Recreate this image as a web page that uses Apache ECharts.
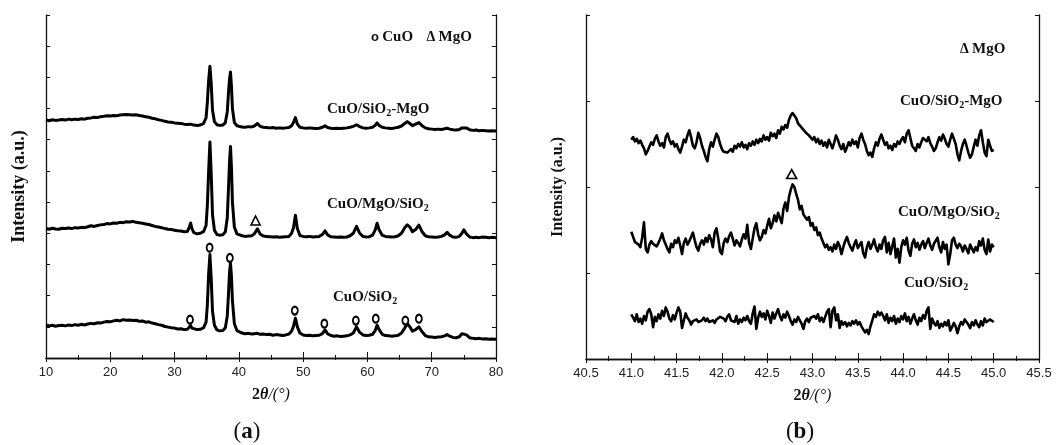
<!DOCTYPE html>
<html><head><meta charset="utf-8">
<script src="https://cdn.jsdelivr.net/npm/echarts@6/dist/echarts.min.js"></script>
<style>html,body{margin:0;padding:0;background:#fff}#c{width:1056px;height:445px}</style>
</head><body><div id="c"></div>
<script>
// ---------- Panel (a): 2θ grid (deg) ----------
const xA = [
10,10.5,11,11.5,12,12.5,13,13.5,14,14.5,
15,15.5,16,16.5,17,17.5,18,18.5,19,19.5,
20,20.5,21,21.5,22,22.5,23,23.5,24,24.5,
25,25.5,26,26.5,27,27.5,28,28.5,29,29.5,
30,30.5,31,31.5,32,32.3,32.5,32.7,33,33.5,
34,34.5,34.9,35.1,35.3,35.5,35.7,35.9,36.2,36.6,
37,37.5,37.9,38.2,38.4,38.55,38.7,38.85,39,39.3,
39.7,40,40.5,41,41.5,42,42.4,42.9,43.3,43.8,
44.3,44.8,45.3,45.8,46.3,46.8,47.3,47.8,48.2,48.5,
48.8,49.1,49.5,50,50.5,51,51.5,52,52.5,53,
53.4,53.8,54.3,54.8,55.3,55.8,56.3,56.8,57.3,57.8,
58.3,58.8,59.3,59.8,60.3,60.8,61.2,61.5,61.8,62.3,
62.8,63.3,63.8,64.3,64.8,65.3,65.8,66.2,66.6,67,
67.5,68,68.5,69,69.5,70,70.5,71,71.5,72,
72.4,72.8,73.3,73.8,74.3,74.7,75,75.4,75.9,76.4,
76.9,77.4,77.9,78.4,78.9,79.4,80];
// intensity (a.u., stacked offsets as read)
const aCuOSiO2 = [
1.06,1.03,1.05,1.02,1.04,1.05,1.03,1.06,1.04,1.07,
1.05,1.08,1.06,1.09,1.11,1.10,1.13,1.12,1.15,1.17,
1.16,1.19,1.21,1.19,1.23,1.21,1.22,1.20,1.21,1.18,
1.19,1.15,1.16,1.12,1.10,1.07,1.05,1.01,0.99,0.97,
0.96,0.93,0.94,0.91,0.92,0.98,1.04,0.96,0.90,0.91,
0.92,0.97,1.15,1.70,2.70,3.32,2.55,1.50,1.05,0.90,
0.87,0.88,0.97,1.35,2.10,2.75,3.04,2.60,1.85,1.10,
0.88,0.82,0.80,0.78,0.79,0.77,0.78,0.79,0.76,0.77,
0.75,0.76,0.73,0.75,0.74,0.72,0.74,0.77,0.86,1.02,
1.28,1.00,0.80,0.74,0.72,0.73,0.71,0.72,0.73,0.78,
0.90,0.78,0.72,0.70,0.71,0.69,0.70,0.71,0.74,0.80,
1.00,0.82,0.74,0.72,0.73,0.76,0.88,1.05,0.92,0.76,
0.72,0.71,0.70,0.71,0.73,0.80,0.96,1.10,1.00,0.86,
0.91,1.00,0.84,0.72,0.68,0.67,0.66,0.67,0.68,0.71,
0.75,0.70,0.66,0.65,0.68,0.78,0.84,0.74,0.65,0.63,
0.62,0.63,0.61,0.62,0.60,0.61,0.60];
const aCuOMgOSiO2 = [
4.15,4.13,4.16,4.14,4.13,4.16,4.15,4.17,4.15,4.18,
4.17,4.19,4.18,4.21,4.24,4.22,4.25,4.27,4.28,4.31,
4.30,4.33,4.32,4.35,4.34,4.37,4.36,4.38,4.35,4.34,
4.32,4.30,4.28,4.25,4.22,4.20,4.18,4.15,4.13,4.12,
4.10,4.08,4.07,4.05,4.06,4.20,4.33,4.15,4.02,3.98,
4.00,4.05,4.25,4.90,6.00,6.93,5.90,4.60,4.10,3.96,
3.94,3.95,4.05,4.50,5.50,6.30,6.78,6.10,5.00,4.20,
3.98,3.93,3.92,3.90,3.91,3.92,3.98,4.14,3.98,3.91,
3.90,3.89,3.88,3.89,3.87,3.88,3.89,3.90,4.00,4.18,
4.58,4.15,3.93,3.90,3.89,3.90,3.88,3.89,3.90,3.96,
4.08,3.95,3.89,3.88,3.87,3.88,3.87,3.88,3.92,4.00,
4.22,4.00,3.90,3.88,3.89,3.94,4.10,4.32,4.12,3.94,
3.90,3.89,3.88,3.89,3.92,4.00,4.18,4.27,4.20,4.05,
4.12,4.26,4.05,3.92,3.89,3.88,3.87,3.88,3.90,3.95,
4.03,3.94,3.88,3.87,3.90,4.00,4.11,3.98,3.88,3.86,
3.87,3.86,3.88,3.87,3.86,3.87,3.86];
const aCuOSiO2MgO = [
7.63,7.61,7.64,7.62,7.63,7.65,7.63,7.66,7.64,7.66,
7.65,7.67,7.66,7.69,7.70,7.72,7.71,7.74,7.75,7.77,
7.76,7.78,7.77,7.79,7.80,7.81,7.80,7.79,7.80,7.78,
7.76,7.74,7.72,7.69,7.67,7.64,7.62,7.59,7.57,7.56,
7.54,7.53,7.52,7.50,7.49,7.48,7.50,7.49,7.47,7.46,
7.47,7.52,7.70,8.20,8.90,9.36,8.80,7.95,7.58,7.48,
7.46,7.47,7.55,7.90,8.55,8.95,9.17,8.70,8.00,7.55,
7.45,7.42,7.41,7.40,7.42,7.41,7.44,7.52,7.43,7.40,
7.39,7.38,7.39,7.37,7.38,7.37,7.38,7.39,7.45,7.55,
7.71,7.50,7.40,7.38,7.37,7.38,7.37,7.36,7.37,7.40,
7.45,7.39,7.37,7.36,7.37,7.36,7.37,7.38,7.40,7.43,
7.48,7.42,7.38,7.37,7.38,7.40,7.46,7.54,7.46,7.40,
7.38,7.37,7.36,7.38,7.40,7.44,7.52,7.58,7.52,7.45,
7.50,7.55,7.45,7.38,7.35,7.34,7.33,7.34,7.33,7.35,
7.37,7.34,7.32,7.31,7.33,7.38,7.44,7.38,7.32,7.30,
7.31,7.29,7.30,7.29,7.28,7.29,7.28];
// phase markers (a): [2θ, height]
const cuoMarksA = [[32.4,1.23],[35.45,3.54],[38.6,3.21],[48.7,1.52],[53.3,1.10],[58.2,1.20],[61.3,1.26],[65.9,1.20],[68.0,1.26]];
const mgoMarksA = [[42.6,4.41]];

// ---------- Panel (b) ----------
const xB = [
41,41.02,41.04,41.06,41.08,41.1,41.12,41.14,41.16,41.18,
41.2,41.22,41.24,41.26,41.28,41.3,41.32,41.34,41.36,41.38,
41.4,41.42,41.44,41.46,41.48,41.5,41.52,41.54,41.56,41.58,
41.6,41.62,41.64,41.66,41.68,41.7,41.72,41.74,41.76,41.78,
41.8,41.82,41.84,41.86,41.88,41.9,41.92,41.94,41.96,41.98,
42,42.02,42.04,42.06,42.08,42.1,42.12,42.14,42.16,42.18,
42.2,42.22,42.24,42.26,42.28,42.3,42.32,42.34,42.36,42.38,
42.4,42.42,42.44,42.46,42.48,42.5,42.52,42.54,42.56,42.58,
42.6,42.62,42.64,42.66,42.68,42.7,42.72,42.74,42.76,42.78,
42.8,42.82,42.84,42.86,42.88,42.9,42.92,42.94,42.96,42.98,
43,43.02,43.04,43.06,43.08,43.1,43.12,43.14,43.16,43.18,
43.2,43.22,43.24,43.26,43.28,43.3,43.32,43.34,43.36,43.38,
43.4,43.42,43.44,43.46,43.48,43.5,43.52,43.54,43.56,43.58,
43.6,43.62,43.64,43.66,43.68,43.7,43.72,43.74,43.76,43.78,
43.8,43.82,43.84,43.86,43.88,43.9,43.92,43.94,43.96,43.98,
44,44.02,44.04,44.06,44.08,44.1,44.12,44.14,44.16,44.18,
44.2,44.22,44.24,44.26,44.28,44.3,44.32,44.34,44.36,44.38,
44.4,44.42,44.44,44.46,44.48,44.5,44.52,44.54,44.56,44.58,
44.6,44.62,44.64,44.66,44.68,44.7,44.72,44.74,44.76,44.78,
44.8,44.82,44.84,44.86,44.88,44.9,44.92,44.94,44.96,44.98,
45];
const bCuOSiO2MgO = [
2.55,2.58,2.53,2.56,2.51,2.54,2.49,2.45,2.38,2.42,
2.47,2.52,2.49,2.56,2.60,2.53,2.48,2.51,2.46,2.58,
2.62,2.55,2.50,2.53,2.47,2.50,2.44,2.40,2.47,2.55,
2.52,2.60,2.66,2.58,2.48,2.45,2.52,2.63,2.57,2.48,
2.42,2.35,2.30,2.44,2.52,2.47,2.55,2.62,2.58,2.50,
2.44,2.41,2.43,2.40,2.42,2.44,2.41,2.48,2.45,2.50,
2.47,2.52,2.46,2.49,2.44,2.51,2.48,2.53,2.49,2.55,
2.51,2.56,2.53,2.60,2.55,2.58,2.54,2.63,2.59,2.62,
2.57,2.66,2.62,2.70,2.67,2.72,2.69,2.78,2.83,2.86,
2.84,2.80,2.74,2.76,2.69,2.71,2.64,2.66,2.60,2.58,
2.55,2.58,2.52,2.56,2.50,2.54,2.48,2.52,2.46,2.55,
2.50,2.45,2.52,2.60,2.55,2.48,2.44,2.50,2.41,2.46,
2.52,2.48,2.55,2.50,2.53,2.46,2.57,2.62,2.55,2.50,
2.42,2.37,2.40,2.35,2.45,2.52,2.48,2.56,2.61,2.55,
2.49,2.52,2.45,2.48,2.43,2.50,2.47,2.53,2.50,2.55,
2.58,2.52,2.62,2.66,2.57,2.48,2.45,2.42,2.50,2.46,
2.52,2.57,2.55,2.53,2.58,2.51,2.47,2.42,2.45,2.52,
2.58,2.54,2.61,2.56,2.50,2.47,2.55,2.62,2.60,2.50,
2.38,2.31,2.42,2.50,2.55,2.48,2.40,2.34,2.38,2.47,
2.55,2.48,2.60,2.66,2.52,2.40,2.36,2.55,2.48,2.42,
2.43];
const bCuOMgOSiO2 = [
1.48,1.42,1.36,1.38,1.33,1.30,1.41,1.59,1.28,1.24,
1.33,1.37,1.34,1.36,1.31,1.35,1.40,1.46,1.38,1.33,
1.28,1.24,1.34,1.30,1.38,1.35,1.41,1.32,1.22,1.35,
1.40,1.33,1.37,1.42,1.47,1.38,1.30,1.26,1.34,1.38,
1.33,1.41,1.36,1.44,1.39,1.30,1.47,1.52,1.40,1.25,
1.22,1.35,1.40,1.36,1.43,1.47,1.40,1.32,1.38,1.35,
1.31,1.39,1.45,1.40,1.56,1.35,1.28,1.40,1.52,1.58,
1.45,1.38,1.42,1.50,1.46,1.55,1.63,1.52,1.58,1.67,
1.60,1.70,1.64,1.58,1.75,1.82,1.72,1.88,1.97,2.03,
2.00,1.92,1.85,1.74,1.78,1.68,1.70,1.62,1.65,1.55,
1.58,1.50,1.53,1.44,1.47,1.40,1.35,1.30,1.33,1.27,
1.30,1.25,1.33,1.28,1.36,1.31,1.22,1.30,1.37,1.42,
1.35,1.30,1.26,1.33,1.38,1.29,1.31,1.36,1.23,1.18,
1.30,1.36,1.28,1.33,1.39,1.30,1.25,1.33,1.28,1.38,
1.42,1.24,1.35,1.22,1.31,1.40,1.18,1.28,1.12,1.30,
1.38,1.33,1.41,1.26,1.20,1.34,1.39,1.30,1.35,1.27,
1.33,1.37,1.29,1.35,1.40,1.32,1.27,1.34,1.36,1.41,
1.30,1.24,1.36,1.28,1.33,1.10,1.22,1.38,1.41,1.33,
1.29,1.34,1.31,1.25,1.32,1.28,1.23,1.33,1.35,1.24,
1.30,1.26,1.37,1.32,1.40,1.27,1.22,1.39,1.25,1.33,
1.30];
const bCuOSiO2 = [
0.52,0.48,0.44,0.52,0.43,0.47,0.41,0.50,0.45,0.55,
0.58,0.52,0.37,0.49,0.44,0.52,0.47,0.56,0.50,0.60,
0.55,0.47,0.44,0.51,0.46,0.54,0.60,0.55,0.36,0.45,
0.53,0.48,0.45,0.40,0.44,0.42,0.46,0.43,0.41,0.45,
0.48,0.44,0.47,0.43,0.41,0.45,0.42,0.46,0.44,0.49,
0.51,0.47,0.44,0.49,0.52,0.45,0.47,0.43,0.50,0.41,
0.46,0.43,0.48,0.45,0.50,0.44,0.41,0.53,0.61,0.35,
0.48,0.55,0.49,0.53,0.46,0.56,0.50,0.42,0.54,0.47,
0.53,0.58,0.50,0.45,0.52,0.48,0.55,0.50,0.44,0.40,
0.46,0.43,0.49,0.45,0.41,0.35,0.44,0.47,0.43,0.48,
0.46,0.50,0.47,0.52,0.44,0.48,0.43,0.49,0.55,0.58,
0.37,0.56,0.60,0.45,0.52,0.36,0.44,0.40,0.43,0.38,
0.42,0.39,0.44,0.41,0.45,0.40,0.43,0.38,0.36,0.31,
0.34,0.29,0.38,0.45,0.52,0.49,0.55,0.51,0.54,0.50,
0.45,0.52,0.42,0.48,0.44,0.50,0.41,0.47,0.43,0.50,
0.46,0.53,0.44,0.49,0.41,0.47,0.52,0.45,0.40,0.48,
0.44,0.51,0.47,0.56,0.60,0.35,0.47,0.42,0.39,0.44,
0.36,0.41,0.38,0.43,0.39,0.45,0.33,0.37,0.42,0.38,
0.30,0.38,0.43,0.40,0.46,0.44,0.40,0.36,0.43,0.39,
0.45,0.40,0.37,0.44,0.39,0.47,0.43,0.41,0.46,0.44,
0.43];
const mgoMarksB = [[42.77,2.15]];

[aCuOSiO2,aCuOMgOSiO2,aCuOSiO2MgO].forEach(a=>{ if(a.length!==xA.length) throw new Error('len A '+a.length+' vs '+xA.length); });
[bCuOSiO2,bCuOMgOSiO2,bCuOSiO2MgO].forEach(a=>{ if(a.length!==xB.length) throw new Error('len B '+a.length+' vs '+xB.length); });

const SERIF = '"Liberation Serif","Times New Roman",serif';
const SANS = '"Liberation Sans",Arial,sans-serif';
const pairs = (xs, ys) => xs.map((x,i)=>[x, ys[i]]);

const axisLine = {show:true, lineStyle:{color:'#111', width:1.3}};
function xAxes(gi, min, max, interval, fmt){
  return [
    {type:'value', gridIndex:gi, position:'bottom', min, max, interval,
     axisLine, splitLine:{show:false},
     axisTick:{show:true, inside:true, length:6, lineStyle:{color:'#111'}},
     minorTick:{show:true, splitNumber:2, length:3, lineStyle:{color:'#111'}},
     axisLabel:{color:'#222', fontSize:13, fontFamily:SANS, margin:8, formatter:fmt},
     name:'{a|2}{b|θ}{c|/(°)}', nameLocation:'middle', nameGap:29,
     nameTextStyle:{rich:{
       a:{fontFamily:SERIF, fontWeight:'bold', fontSize:16, color:'#111'},
       b:{fontFamily:SERIF, fontWeight:'bold', fontStyle:'italic', fontSize:16, color:'#111'},
       c:{fontFamily:SERIF, fontStyle:'italic', fontSize:16, color:'#111'}}}},
    {type:'value', gridIndex:gi, position:'top', min, max, interval,
     axisLine, splitLine:{show:false},
     axisTick:{show:true, inside:true, length:4, lineStyle:{color:'#111'}},
     minorTick:{show:true, splitNumber:2, length:2, lineStyle:{color:'#111'}},
     axisLabel:{show:false}}
  ];
}
function yAxes(gi, max, fs, gap){
  return [
    {type:'value', gridIndex:gi, position:'left', min:0, max, interval:1,
     axisLine, splitLine:{show:false},
     axisTick:{show:true, inside:true, length:4, lineStyle:{color:'#111'}},
     axisLabel:{show:false},
     name:'Intensity (a.u.)', nameLocation:'middle', nameGap:gap, nameRotate:90,
     nameTextStyle:{fontFamily:SERIF, fontWeight:'bold', fontSize:fs, color:'#111'}},
    {type:'value', gridIndex:gi, position:'right', min:0, max, interval:1,
     axisLine, splitLine:{show:false},
     axisTick:{show:true, inside:true, length:4, lineStyle:{color:'#111'}},
     axisLabel:{show:false}}
  ];
}

function line(xi, yi, data, w){
  return {type:'line', xAxisIndex:xi, yAxisIndex:yi, data, showSymbol:false, symbol:'none',
    lineStyle:{color:'#000', width:w, join:'round'}, z:3, silent:true};
}
function marks(xi, yi, data, symbol, size, bw){
  return {type:'scatter', xAxisIndex:xi, yAxisIndex:yi, data, symbol, symbolSize:size,
    itemStyle:{color:'#fff', borderColor:'#000', borderWidth:bw, opacity:1}, z:5, silent:true};
}

const labRich = {
  n:{fontSize:15, fontWeight:'bold', fontFamily:SERIF, fill:'#111'},
  s:{fontSize:10, fontWeight:'bold', fontFamily:SERIF, fill:'#111', padding:[9,0,0,0]},
  o:{fontSize:13, fontWeight:'bold', fontFamily:SANS, fill:'#111'},
  t:{fontSize:14, fontWeight:'bold', fontFamily:SERIF, fill:'#111'}
};
function label(x, y, text){
  return {type:'text', x, y, z:10, style:{text, rich:labRich, textVerticalAlign:'middle', textAlign:'left'}};
}
const capRich = {
  p:{fontSize:23, fontFamily:SERIF, fill:'#111'},
  q:{fontSize:23, fontFamily:SERIF, fontWeight:'bold', fill:'#111'}
};

const option = {
  animation:false,
  backgroundColor:'#fff',
  grid:[
    {left:46, top:15, width:450, height:343, containLabel:false},
    {left:586, top:15, width:453, height:344, containLabel:false}
  ],
  xAxis:[...xAxes(0,10,80,10,v=>String(v)), ...xAxes(1,40.5,45.5,0.5,v=>v.toFixed(1))],
  yAxis:[...yAxes(0,11,18,18), ...yAxes(1,4,16,20)],
  series:[
    line(0,0,pairs(xA,aCuOSiO2),3),
    line(0,0,pairs(xA,aCuOMgOSiO2),3),
    line(0,0,pairs(xA,aCuOSiO2MgO),3),
    marks(0,0,cuoMarksA,'circle',[6,8],2),
    marks(0,0,mgoMarksA,'triangle',[9,9],1.6),
    line(2,2,pairs(xB,bCuOSiO2MgO),2.6),
    line(2,2,pairs(xB,bCuOMgOSiO2),2.6),
    line(2,2,pairs(xB,bCuOSiO2),2.6),
    marks(2,2,mgoMarksB,'triangle',[10,9],1.6)
  ],
  graphic:[
    label(371, 37, '{o|o} {n|CuO}    {t|Δ} {n|MgO}'),
    label(327, 109, '{n|CuO/SiO}{s|2}{n|-MgO}'),
    label(327, 204, '{n|CuO/MgO/SiO}{s|2}'),
    label(333, 297, '{n|CuO/SiO}{s|2}'),
    label(960, 49, '{t|Δ} {n|MgO}'),
    label(900, 101, '{n|CuO/SiO}{s|2}{n|-MgO}'),
    label(898, 212, '{n|CuO/MgO/SiO}{s|2}'),
    label(904, 283, '{n|CuO/SiO}{s|2}'),
    {type:'text', x:247, y:432, z:10, style:{text:'{p|(}{q|a}{p|)}', rich:capRich, textAlign:'center', textVerticalAlign:'middle'}},
    {type:'text', x:800, y:432, z:10, style:{text:'{p|(}{q|b}{p|)}', rich:capRich, textAlign:'center', textVerticalAlign:'middle'}}
  ]
};
const chart = echarts.init(document.getElementById('c'), null, {renderer:'canvas'});
chart.setOption(option);
</script></body></html>
